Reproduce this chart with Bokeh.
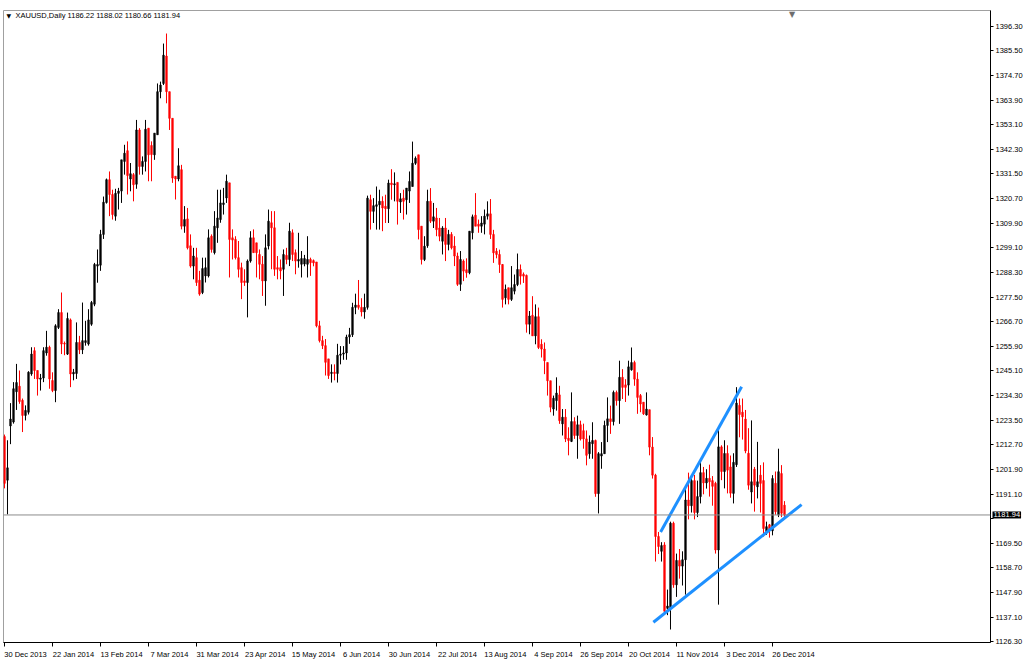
from bokeh.plotting import figure
from bokeh.models import (Range1d, LinearAxis, FixedTicker, Span, Label,
                          ColumnDataSource, PrintfTickFormatter)
from bokeh.embed import file_html
from bokeh.resources import INLINE

# ---------------- data ----------------
opens = [
    1216.3, 1197.2, 1221.0, 1222.7, 1236.0, 1238.4, 1232.2, 1225.6, 1227.0, 1243.8,
    1254.0, 1245.3, 1241.5, 1242.0, 1253.0, 1255.5, 1240.9, 1236.5, 1264.2, 1270.7,
    1257.2, 1252.5, 1267.5, 1243.8, 1244.0, 1257.6, 1254.4, 1257.6, 1256.9, 1265.6,
    1274.4, 1291.1, 1291.5, 1305.0, 1319.0, 1329.0, 1322.5, 1313.0, 1323.0, 1324.0,
    1337.0, 1341.7, 1329.3, 1331.2, 1327.0, 1350.8, 1334.8, 1337.0, 1351.6, 1344.0,
    1339.9, 1348.7, 1367.6, 1371.2, 1383.2, 1367.6, 1355.9, 1330.5, 1329.3, 1333.4,
    1308.6, 1311.8, 1300.0, 1291.1, 1294.8, 1284.9, 1279.5, 1286.8, 1286.8, 1304.2,
    1297.0, 1307.9, 1311.5, 1318.1, 1321.0, 1327.6, 1303.5, 1302.8, 1294.8, 1290.4,
    1284.6, 1283.9, 1293.3, 1303.5, 1301.3, 1296.2, 1291.9, 1284.6, 1299.9, 1310.1,
    1307.9, 1290.4, 1290.4, 1289.7, 1295.8, 1294.0, 1305.7, 1297.0, 1293.3, 1291.9,
    1292.0, 1291.9, 1294.0, 1293.5, 1292.9, 1264.9, 1258.4, 1256.2, 1250.4, 1244.0,
    1244.5, 1244.0, 1252.0, 1252.5, 1253.0, 1260.0, 1261.0, 1273.0, 1274.0, 1273.0,
    1271.0, 1273.0, 1320.2, 1315.1, 1317.3, 1318.0, 1319.5, 1317.3, 1316.3, 1327.5,
    1326.8, 1327.8, 1319.2, 1320.9, 1320.2, 1324.0, 1326.0, 1336.2, 1339.9, 1308.6,
    1294.0, 1300.0, 1319.5, 1310.8, 1312.2, 1307.8, 1302.0, 1307.8, 1300.6, 1305.0,
    1299.9, 1295.5, 1283.1, 1293.3, 1289.5, 1288.2, 1305.7, 1313.4, 1309.5, 1308.6,
    1309.5, 1313.0, 1314.0, 1305.0, 1297.6, 1296.2, 1291.8, 1277.2, 1281.6, 1276.5,
    1280.1, 1283.0, 1289.6, 1287.5, 1287.0, 1265.6, 1269.5, 1260.5, 1268.9, 1256.8,
    1254.7, 1248.8, 1240.8, 1228.4, 1232.1, 1234.6, 1221.9, 1224.8, 1215.6, 1214.2,
    1222.9, 1216.8, 1221.5, 1218.9, 1215.3, 1208.8, 1213.2, 1214.6, 1191.3, 1207.8,
    1208.8, 1221.2, 1224.1, 1222.9, 1235.7, 1232.1, 1242.3, 1239.0, 1238.9, 1245.6,
    1248.8, 1241.5, 1234.3, 1231.4, 1225.8, 1228.1, 1211.7, 1199.4, 1172.5, 1166.0,
    1168.8, 1141.0, 1141.2, 1178.3, 1151.3, 1162.0, 1159.5, 1162.3, 1188.5, 1186.0,
    1197.0, 1183.0, 1190.0, 1200.5, 1196.0, 1198.0, 1197.0, 1195.8, 1166.6, 1211.8,
    1201.0, 1208.9, 1203.0, 1191.4, 1204.0, 1230.0, 1227.0, 1224.0, 1209.0, 1192.0,
    1202.0, 1194.3, 1199.4, 1197.0, 1174.6, 1177.6, 1175.0, 1195.8, 1182.0, 1200.1,
    1186.22,
]
highs = [
    1217.2, 1214.7, 1231.0, 1240.2, 1248.2, 1245.3, 1233.0, 1230.0, 1245.0, 1255.5,
    1255.5, 1245.3, 1243.8, 1255.5, 1262.7, 1256.2, 1244.5, 1265.6, 1272.2, 1279.5,
    1258.0, 1270.7, 1268.1, 1246.0, 1266.4, 1260.5, 1275.1, 1267.1, 1272.2, 1275.8,
    1292.5, 1298.4, 1307.0, 1321.6, 1329.5, 1332.6, 1324.6, 1325.0, 1325.4, 1337.7,
    1344.3, 1345.8, 1336.3, 1331.9, 1355.2, 1351.6, 1339.2, 1355.2, 1351.6, 1345.8,
    1349.4, 1371.2, 1372.0, 1388.7, 1393.1, 1367.6, 1355.9, 1330.5, 1342.8, 1335.5,
    1317.4, 1316.6, 1305.0, 1299.1, 1299.1, 1289.0, 1294.8, 1294.8, 1307.2, 1305.0,
    1315.2, 1324.6, 1324.6, 1325.4, 1331.2, 1327.6, 1307.2, 1304.2, 1302.1, 1292.6,
    1289.7, 1294.0, 1306.4, 1307.2, 1301.3, 1298.4, 1295.5, 1305.0, 1315.9, 1315.2,
    1315.2, 1295.5, 1294.0, 1298.4, 1299.1, 1310.1, 1307.2, 1298.4, 1305.7, 1297.7,
    1296.0, 1304.2, 1294.8, 1294.0, 1292.9, 1267.1, 1260.5, 1259.1, 1250.4, 1248.0,
    1248.0, 1257.0, 1256.0, 1256.0, 1261.0, 1264.0, 1275.0, 1279.0, 1285.0, 1277.0,
    1279.0, 1322.0, 1322.4, 1320.9, 1326.0, 1324.6, 1321.7, 1322.4, 1329.0, 1333.6,
    1332.2, 1327.8, 1323.1, 1324.6, 1325.3, 1332.6, 1345.7, 1339.2, 1339.9, 1308.6,
    1304.2, 1324.6, 1325.3, 1318.8, 1316.6, 1312.2, 1308.6, 1312.2, 1307.0, 1306.0,
    1304.2, 1297.0, 1297.7, 1294.0, 1294.5, 1306.4, 1313.7, 1323.1, 1311.5, 1313.0,
    1315.9, 1319.5, 1320.5, 1307.0, 1299.0, 1298.3, 1292.0, 1283.0, 1281.6, 1291.1,
    1287.4, 1296.6, 1291.8, 1288.3, 1287.4, 1271.4, 1277.9, 1274.3, 1272.9, 1259.0,
    1257.6, 1248.8, 1240.8, 1234.3, 1242.3, 1238.6, 1228.4, 1228.4, 1220.4, 1235.7,
    1224.8, 1225.5, 1223.3, 1222.0, 1219.0, 1216.8, 1222.6, 1215.0, 1209.5, 1213.9,
    1223.3, 1233.5, 1229.9, 1236.5, 1236.5, 1249.6, 1245.9, 1241.5, 1249.6, 1255.4,
    1249.6, 1244.5, 1235.0, 1231.4, 1235.7, 1228.1, 1216.1, 1200.0, 1174.5, 1170.0,
    1170.0, 1149.2, 1179.0, 1179.0, 1165.0, 1167.0, 1166.0, 1193.6, 1200.5, 1198.0,
    1199.5, 1197.0, 1206.0, 1203.0, 1202.0, 1204.0, 1199.0, 1196.5, 1220.5, 1212.5,
    1214.7, 1212.5, 1208.0, 1209.0, 1238.0, 1233.0, 1233.0, 1228.0, 1220.0, 1223.4,
    1203.0, 1214.0, 1203.8, 1205.0, 1179.0, 1178.0, 1199.4, 1201.0, 1211.0, 1203.8,
    1188.02,
]
lows = [
    1193.6, 1182.2, 1213.0, 1222.0, 1228.0, 1230.7, 1218.3, 1223.4, 1226.0, 1243.0,
    1241.6, 1234.3, 1236.5, 1240.2, 1251.8, 1237.3, 1235.8, 1231.4, 1263.5, 1252.5,
    1252.0, 1252.1, 1238.0, 1241.0, 1241.6, 1252.5, 1252.5, 1256.2, 1256.2, 1264.9,
    1273.5, 1283.8, 1289.0, 1303.0, 1318.5, 1313.0, 1311.5, 1311.0, 1315.9, 1318.8,
    1331.2, 1322.5, 1323.9, 1319.5, 1325.0, 1331.2, 1331.2, 1332.6, 1328.3, 1328.3,
    1337.7, 1348.7, 1364.7, 1370.5, 1362.5, 1350.8, 1327.6, 1320.3, 1328.3, 1307.2,
    1305.7, 1298.4, 1290.4, 1285.3, 1282.4, 1278.1, 1278.8, 1283.9, 1286.1, 1297.0,
    1296.2, 1301.3, 1310.1, 1313.7, 1318.8, 1286.1, 1294.0, 1294.0, 1286.1, 1276.6,
    1282.4, 1268.6, 1292.6, 1297.0, 1286.1, 1285.3, 1278.0, 1273.7, 1298.4, 1289.7,
    1286.8, 1285.3, 1285.3, 1278.0, 1291.9, 1291.1, 1293.3, 1287.5, 1290.4, 1286.1,
    1291.0, 1286.1, 1286.8, 1291.0, 1264.2, 1257.6, 1254.7, 1243.1, 1241.6, 1240.0,
    1241.0, 1240.0, 1248.0, 1250.0, 1250.0, 1257.0, 1260.0, 1270.0, 1272.0, 1269.0,
    1268.0, 1272.0, 1307.1, 1310.0, 1307.1, 1307.1, 1306.4, 1310.0, 1310.0, 1320.2,
    1319.5, 1309.3, 1314.4, 1311.5, 1313.7, 1318.8, 1326.0, 1335.5, 1302.8, 1291.8,
    1293.3, 1299.1, 1310.0, 1307.8, 1304.2, 1302.0, 1296.2, 1293.3, 1298.0, 1298.4,
    1291.1, 1282.4, 1280.2, 1284.5, 1286.0, 1287.5, 1302.8, 1308.6, 1305.7, 1305.7,
    1305.0, 1311.5, 1303.0, 1292.5, 1294.5, 1288.1, 1272.9, 1274.3, 1274.3, 1275.8,
    1278.7, 1282.3, 1283.0, 1283.7, 1261.9, 1261.2, 1260.5, 1256.8, 1254.7, 1251.0,
    1243.7, 1234.3, 1227.0, 1225.5, 1227.7, 1221.9, 1216.8, 1213.9, 1208.1, 1213.9,
    1215.3, 1206.6, 1214.6, 1211.0, 1203.7, 1206.6, 1206.6, 1189.9, 1182.6, 1202.2,
    1208.8, 1213.9, 1217.5, 1221.2, 1229.9, 1221.9, 1232.8, 1231.5, 1234.3, 1245.2,
    1238.6, 1226.3, 1227.0, 1225.8, 1225.5, 1208.1, 1197.9, 1161.5, 1164.8, 1161.5,
    1138.5, 1138.0, 1131.7, 1150.0, 1146.0, 1154.0, 1151.0, 1147.0, 1180.0, 1183.0,
    1180.0, 1181.0, 1187.0, 1191.0, 1193.5, 1190.0, 1186.0, 1165.0, 1142.6, 1197.2,
    1193.6, 1191.4, 1189.5, 1187.0, 1203.0, 1216.0, 1215.0, 1209.0, 1193.0, 1187.0,
    1183.4, 1189.2, 1183.0, 1172.5, 1173.2, 1172.0, 1173.0, 1182.0, 1181.0, 1181.0,
    1180.66,
]
closes = [
    1195.8, 1202.6, 1224.0, 1237.3, 1240.0, 1231.7, 1225.6, 1227.8, 1244.5, 1252.5,
    1245.3, 1241.6, 1242.0, 1254.0, 1255.5, 1241.6, 1236.5, 1264.9, 1270.7, 1256.9,
    1256.9, 1268.1, 1243.8, 1244.5, 1257.6, 1254.4, 1258.4, 1258.4, 1267.5, 1275.1,
    1291.8, 1291.8, 1305.0, 1319.1, 1329.0, 1322.5, 1313.7, 1323.0, 1324.0, 1337.7,
    1340.6, 1330.8, 1331.6, 1326.8, 1350.8, 1334.8, 1337.0, 1351.1, 1339.9, 1340.0,
    1349.4, 1367.6, 1370.5, 1383.6, 1367.6, 1355.9, 1329.7, 1329.3, 1335.1, 1308.6,
    1311.5, 1299.1, 1291.1, 1295.5, 1283.9, 1278.8, 1290.0, 1290.4, 1303.5, 1298.4,
    1308.6, 1312.2, 1318.8, 1318.8, 1328.3, 1302.8, 1302.5, 1294.8, 1289.7, 1283.9,
    1283.9, 1293.3, 1303.5, 1297.0, 1297.0, 1291.9, 1284.6, 1299.1, 1310.8, 1307.9,
    1289.7, 1289.7, 1289.0, 1296.2, 1294.0, 1306.4, 1296.2, 1293.3, 1294.0, 1294.4,
    1294.4, 1294.0, 1292.6, 1292.5, 1264.9, 1258.4, 1256.2, 1248.9, 1243.1, 1244.5,
    1244.0, 1252.0, 1252.5, 1253.0, 1260.0, 1261.0, 1273.0, 1274.0, 1273.0, 1271.0,
    1273.0, 1320.9, 1315.1, 1317.6, 1318.0, 1319.5, 1316.6, 1316.3, 1327.5, 1326.8,
    1327.2, 1319.5, 1320.6, 1319.5, 1325.3, 1328.2, 1336.2, 1338.4, 1307.1, 1294.0,
    1299.8, 1319.5, 1310.8, 1312.7, 1307.1, 1304.2, 1307.8, 1300.6, 1305.0, 1299.1,
    1295.5, 1283.1, 1294.0, 1288.9, 1288.2, 1306.4, 1312.7, 1308.6, 1308.6, 1310.0,
    1313.0, 1314.0, 1305.0, 1296.9, 1296.2, 1291.8, 1276.5, 1280.9, 1276.5, 1281.6,
    1283.0, 1289.6, 1286.7, 1286.7, 1265.6, 1269.2, 1260.5, 1268.9, 1255.4, 1254.7,
    1249.6, 1240.8, 1229.2, 1233.1, 1235.4, 1223.3, 1224.8, 1215.3, 1214.6, 1222.9,
    1216.8, 1221.5, 1215.3, 1215.3, 1208.1, 1213.9, 1214.6, 1191.3, 1208.8, 1208.8,
    1221.2, 1224.1, 1222.9, 1235.7, 1232.1, 1242.3, 1237.9, 1237.9, 1246.9, 1248.8,
    1241.5, 1233.5, 1230.6, 1226.3, 1228.4, 1211.7, 1199.4, 1172.5, 1168.1, 1168.5,
    1139.7, 1142.0, 1178.3, 1151.3, 1162.0, 1159.5, 1162.3, 1188.5, 1186.0, 1197.0,
    1183.0, 1190.0, 1200.5, 1196.0, 1198.0, 1196.5, 1194.5, 1166.6, 1211.8, 1201.0,
    1208.9, 1201.6, 1191.5, 1205.0, 1231.0, 1226.0, 1225.0, 1210.0, 1195.0, 1196.5,
    1195.0, 1196.5, 1195.8, 1176.0, 1176.8, 1175.4, 1197.9, 1183.4, 1200.9, 1182.7,
    1181.94,
]

date_labels = ["30 Dec 2013", "22 Jan 2014", "13 Feb 2014", "7 Mar 2014", "31 Mar 2014",
               "23 Apr 2014", "15 May 2014", "6 Jun 2014", "30 Jun 2014", "22 Jul 2014",
               "13 Aug 2014", "4 Sep 2014", "26 Sep 2014", "20 Oct 2014", "11 Nov 2014",
               "3 Dec 2014", "26 Dec 2014"]
bars_per_date_label = 16

price_ticks = [1126.30, 1137.10, 1147.90, 1158.70, 1169.50, 1180.30, 1191.10, 1201.90,
               1212.70, 1223.50, 1234.30, 1245.10, 1255.90, 1266.70, 1277.50, 1288.30,
               1299.10, 1309.90, 1320.70, 1331.50, 1342.30, 1353.10, 1363.90, 1374.70,
               1385.50, 1396.30]
hidden_price_tick = 1180.30   # covered by the current-price tag

symbol_text = "XAUUSD,Daily  1186.22 1188.02 1180.66 1181.94"
last_price = 1181.94

upper_trend_x = [218.7, 245.7]
upper_trend_y = [1174.5, 1238.2]
lower_trend_x = [216.3, 265.7]
lower_trend_y = [1134.9, 1186.5]

# ---------------- build ----------------
n = len(closes)
idx = list(range(n))
bull = [c >= o for o, c in zip(opens, closes)]
colors = ["#000000" if b else "#FF0000" for b in bull]
hi = [max(h, o, c) for h, o, c in zip(highs, opens, closes)]
lo = [min(l, o, c) for l, o, c in zip(lows, opens, closes)]
src = ColumnDataSource(dict(
    x=idx, high=hi, low=lo,
    top=[max(o, c) for o, c in zip(opens, closes)],
    bottom=[min(o, c) for o, c in zip(opens, closes)],
    color=colors))

FONT = "Liberation Sans"
x_start, x_end = -0.333, 328.667
y_start, y_end = 1126.0, 1403.2
FW, FH = 987, 632

p = figure(frame_width=FW, frame_height=FH, output_backend="svg", toolbar_location=None,
           x_range=Range1d(x_start, x_end), y_range=Range1d(y_start, y_end),
           x_axis_location=None, y_axis_location=None,
           min_border_left=3, min_border_top=10, min_border_right=34, min_border_bottom=17)
for g in p.grid:
    g.visible = False
p.outline_line_color = "#A0A0A0"
p.background_fill_color = "white"
p.border_fill_color = "white"

# candles
p.segment(x0="x", y0="low", x1="x", y1="high", line_color="color", line_width=1, source=src)
p.vbar(x="x", top="top", bottom="bottom", width=0.55, fill_color="color",
       line_color="color", line_width=0.6, source=src)

# trend lines
p.line(upper_trend_x, upper_trend_y, line_color="#1E90FF", line_width=3)
p.line(lower_trend_x, lower_trend_y, line_color="#1E90FF", line_width=3)

# current price line
p.add_layout(Span(location=last_price, dimension="width", line_color="#8C8C8C", line_width=1))

# right price axis
yaxis = LinearAxis(ticker=FixedTicker(ticks=price_ticks),
                   formatter=PrintfTickFormatter(format="%.2f"),
                   major_label_overrides={hidden_price_tick: ""},
                   major_tick_out=3, major_tick_in=0, minor_tick_out=0, minor_tick_in=0,
                   major_label_standoff=2, axis_line_color="black",
                   major_tick_line_color="black",
                   major_label_text_font=FONT, major_label_text_font_size="7.5px",
                   major_label_text_color="black")
p.add_layout(yaxis, "right")

# bottom axis: minor ticks mark the dates, labels sit just right of each tick
date_ticks = [k * bars_per_date_label for k in range(len(date_labels))]
label_pos = [t + 7 for t in date_ticks]
xaxis = LinearAxis(ticker=FixedTicker(ticks=label_pos, minor_ticks=date_ticks),
                   major_label_overrides={pos: lab for pos, lab in zip(label_pos, date_labels)},
                   major_tick_out=0, major_tick_in=0, minor_tick_out=4, minor_tick_in=0,
                   major_tick_line_color=None, minor_tick_line_color="black",
                   major_label_standoff=3, axis_line_color="black",
                   major_label_text_font=FONT, major_label_text_font_size="7.5px",
                   major_label_text_color="black")
p.add_layout(xaxis, "below")

# current price tag on the price axis (kept in a side panel so it is not clipped)
tag_kw = dict(x=x_end, y=last_price, x_offset=2, text=f"{last_price:.2f}",
              text_font=FONT, text_font_size="7.5px", text_color="white",
              text_align="left", text_baseline="middle",
              background_fill_color="black", background_fill_alpha=1.0)
if "padding" in Label.properties():
    tag_kw["padding"] = 1
p.add_layout(Label(**tag_kw), "above")

# header
p.add_layout(Label(x=x_start, y=y_end, x_offset=3, y_offset=-1, text="\u25bc",
                   text_font="DejaVu Sans", text_font_size="6px", text_color="black",
                   text_baseline="top"))
p.add_layout(Label(x=x_start, y=y_end, x_offset=12, y_offset=0, text=symbol_text,
                   text_font=FONT, text_font_size="7.5px", text_color="black",
                   text_baseline="top"))
# chart shift marker
p.add_layout(Label(x=n + 1.5, y=y_end, y_offset=1, text="\u25bc", text_align="center",
                   text_font="DejaVu Sans", text_font_size="8px", text_color="#6E6E6E",
                   text_baseline="top"))

open("out.html", "w").write(file_html(p, INLINE))
